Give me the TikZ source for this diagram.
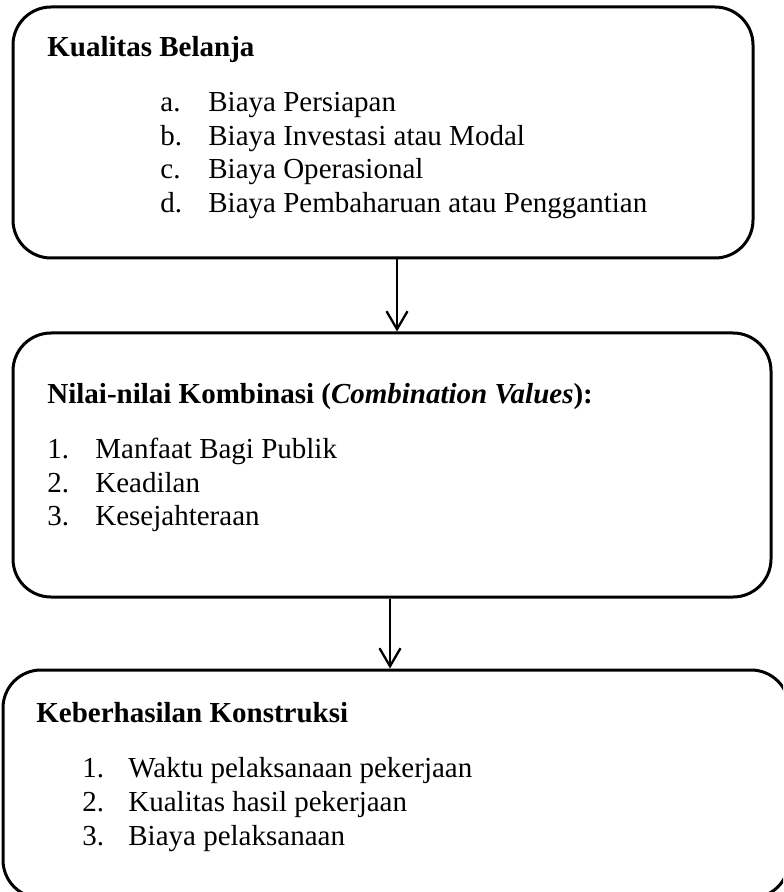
\documentclass[tikz,border=0pt]{standalone}
\usepackage{fontspec}
\setmainfont{Liberation Serif}
\usepackage{tikz}
\usetikzlibrary{positioning}
\usetikzlibrary{arrows.meta}

\begin{document}
\begin{tikzpicture}[x=0.5pt, y=-0.5pt,
		kotak/.style={draw, line width=1.5pt, rounded corners=19pt, inner sep=0pt},
		teks/.style={anchor=base west, inner sep=0pt, font=\fontsize{14.5}{17.4}\selectfont},
		panah/.style={line width=1.15pt, -{Straight Barb[length=9pt, width=10.5pt, line width=1.15pt]}}]
				\useasboundingbox (0,0) rectangle (783,892);
				\clip (0,0) rectangle (783,892);
				
				\node[kotak, minimum width=370pt, minimum height=125.5pt] (kualitas) at (383,132.5) {};
				\node[kotak, minimum width=379pt, minimum height=132pt] (nilai) at (392,465) {};
				\node[kotak, minimum width=393pt, minimum height=114pt] (hasil) at (396,784) {};
				
				\node[teks] (k0) at (47,57) {\textbf{Kualitas Belanja}};
				\node[teks] (ka) at (160,112) {a.};
				\node[teks] (kb) at (160,146) {b.};
				\node[teks] (kc) at (160,179) {c.};
				\node[teks] (kd) at (160,213) {d.};
				\node[teks] (ta) at (208,112) {Biaya Persiapan};
				\node[teks] (tb) at (208,146) {Biaya Investasi atau Modal};
				\node[teks] (tc) at (208,179) {Biaya Operasional};
				\node[teks] (td) at (208,213) {Biaya Pembaharuan atau Penggantian};
				
				\node[teks] (n0) at (47,403) {\textbf{Nilai-nilai Kombinasi (\textit{Combination Values}):}};
				\node[teks] (n1) at (47,458) {1.};
				\node[teks] (n2) at (47,492) {2.};
				\node[teks] (n3) at (47,525) {3.};
				\node[teks] (m1) at (95,458) {Manfaat Bagi Publik};
				\node[teks] (m2) at (95,492) {Keadilan};
				\node[teks] (m3) at (95,525) {Kesejahteraan};
				
				\node[teks] (h0) at (36,722) {\textbf{Keberhasilan Konstruksi}};
				\node[teks] (h1) at (82,777) {1.};
				\node[teks] (h2) at (82,811) {2.};
				\node[teks] (h3) at (82,845) {3.};
				\node[teks] (w1) at (128,777) {Waktu pelaksanaan pekerjaan};
				\node[teks] (w2) at (128,811) {Kualitas hasil pekerjaan};
				\node[teks] (w3) at (128,845) {Biaya pelaksanaan};
				
				\draw[panah] ([xshift=7pt]kualitas.south) -- ([xshift=7pt]kualitas.south |- nilai.north);
				\draw[panah] ([xshift=-1pt]nilai.south) -- ([xshift=-1pt]nilai.south |- hasil.north);
			\end{tikzpicture}
\end{document}
